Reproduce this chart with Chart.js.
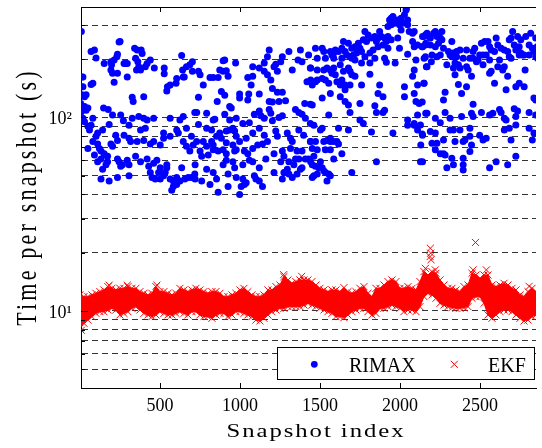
<!DOCTYPE html>
<html><head><meta charset="utf-8">
<script src="https://cdn.jsdelivr.net/npm/chart.js@4.4.0/dist/chart.umd.min.js"></script>
<style>html,body{margin:0;padding:0;background:#fff;overflow:hidden}canvas{display:block}</style>
</head><body><canvas id="c" width="542" height="448"></canvas>
<script>
// ---- axis tick / grid definitions ----
const xTickValues = [500, 1000, 1500, 2000, 2500];
const xTickLabels = ['500', '1000', '1500', '2000', '2500'];
const yGridValues = [5, 6, 7, 8, 9, 10, 20, 30, 40, 50, 60, 70, 80, 90, 100, 200, 300];
const yTickLabelValues = [10, 100];
const yTickLabels = ['10\u00B9', '10\u00B2'];
const xTitle = 'Snapshot index';
const yTitle = 'Time per snapshot (s)';
const seriesNames = ['RIMAX', 'EKF'];

// ---- RIMAX: [snapshot index, time (s)] ----
const rimax = [
[9,278],[70,219],[91,223],[101,203],[251,247],[245,245],[342,228],[358,223],[383,223],[389,214],[235,212],[231,206],[214,198],[194,194],[198,187],[152,190],[194,176],[204,169],[235,169],[214,152],[296,162],[286,190],[296,190],[276,190],[348,202],[362,194],[368,183],[354,176],[379,176],[420,190],[409,183],[440,198],[465,180],[527,180],[527,168],[605,159],[646,162],[642,176],[666,183],[687,187],[703,173],[703,194],[652,162],[636,209],[19,162],[19,144],[81,150],[70,148],[547,144],[564,147],[543,137],[601,150],[13,131],[29,128],[39,131],[327,127],[333,121],[399,128],[29,114],[39,109],[50,112],[148,112],[177,110],[19,99],[29,95],[50,90],[60,86],[81,99],[204,103],[255,103],[327,99],[368,101],[399,99],[420,97],[461,99],[564,99],[625,97],[646,101],[718,106],[70,91],[111,83],[142,86],[183,92],[272,96],[307,91],[379,86],[409,88],[523,83],[564,80],[605,86],[615,83],[666,88],[697,80],[81,75],[101,80],[111,73],[122,69],[132,67],[152,65],[173,63],[194,73],[224,81],[235,76],[276,81],[307,78],[317,75],[358,75],[399,76],[440,73],[461,75],[502,72],[523,78],[646,75],[666,71],[687,67],[708,72],[50,69],[91,64],[111,59],[132,61],[152,64],[173,59],[142,54],[204,71],[235,61],[245,59],[266,57],[296,60],[307,57],[348,63],[379,59],[420,61],[430,56],[461,58],[481,60],[502,55],[543,57],[533,52],[492,52],[440,52],[451,49],[471,48],[502,48],[523,50],[543,55],[564,48],[584,47],[605,49],[625,47],[656,48],[677,49],[697,49],[718,51],[584,44],[574,42],[605,45],[255,56],[307,50],[235,49],[183,47],[132,48],[163,57],[636,55],[13,162],[9,144],[5,118],[9,107],
[905,198],[895,196],[973,191],[741,173],[751,166],[874,176],[895,173],[915,174],[813,161],[833,161],[864,161],[926,163],[771,147],[741,127],[884,136],[905,130],[858,121],[998,132],[998,126],[1049,161],[1080,163],[1070,147],[1055,132],[1049,123],[1080,183],[1121,180],[1152,191],[1152,173],[1172,166],[1193,156],[1183,223],[1172,206],[1213,183],[1224,188],[1234,173],[1255,194],[1265,206],[1306,219],[1327,176],[1363,198],[1378,223],[1388,194],[1429,210],[1440,180],[1419,153],[1121,132],[1203,141],[1234,135],[1265,135],[1183,121],[1203,120],[1244,121],[1285,122],[936,114],[946,112],[1405,118],[1440,117],
[730,106],[792,105],[833,97],[843,98],[905,104],[936,97],[977,99],[1018,93],[1059,94],[1090,104],[1121,108],[1131,102],[1152,99],[1183,110],[1193,105],[1203,96],[1244,100],[1265,102],[1347,110],[1368,106],[1388,104],[1409,99],[1440,93],[741,92],[792,88],[823,86],[854,80],[874,83],[915,85],[936,86],[956,88],[967,85],[977,80],[1080,83],[1121,88],[1152,81],[1172,75],[1224,85],[1234,80],[1296,83],[1316,78],[1368,86],[1398,81],[1440,75],[730,75],[771,75],[792,71],[823,75],[833,72],[884,78],[915,74],[956,72],[998,75],[1039,78],[1080,69],[1111,72],[1141,73],[1213,65],[1265,67],[1316,69],[1327,75],[1357,67],[1388,67],[1409,61],[1429,61],[751,67],[761,63],[802,64],[833,68],[864,67],[895,68],[915,65],[967,67],[977,68],[1028,67],[1049,65],[915,60],[956,59],[967,55],[1018,57],[1059,60],[1080,59],[1121,55],[1162,61],[1255,59],[1275,63],[1306,59],[1337,57],[1347,61],[1368,61],[1388,55],[720,57],[792,54],[833,52],[854,48],[895,57],[926,51],[977,49],[1018,48],[1039,46],[1090,50],[1100,48],[1121,47],[1141,44],[1275,52],[1306,51],[1327,49],[1357,51],[1378,54],[720,48],[761,47],[813,45],[864,41],[926,44],[1008,44],[1028,45],[998,40],[1213,52],[1265,48],[1296,54],
[1935,319],[1945,325],[1956,332],[1986,319],[2007,325],[2028,339],[2038,359],[2040,364],[2048,319],[1945,301],[1966,307],[1925,295],[1997,301],[2017,307],[2048,301],[2058,278],[2007,283],[2079,272],[2089,278],[1781,278],[1801,267],[1822,257],[1843,262],[1863,257],[1873,278],[1884,262],[1904,257],[1925,262],[1915,247],[1894,237],[1853,247],[1791,247],[1771,252],[1740,242],[1750,228],[1719,232],[1699,228],[1678,242],[1647,247],[1637,228],[1616,219],[1596,223],[1586,215],[1657,219],[1688,206],[1709,210],[1729,215],[1760,219],[1781,206],[1812,215],[1832,223],[1863,232],[1925,228],[1945,252],[1986,257],[1997,228],[2079,247],[2089,232],[2110,237],[2141,262],[2161,267],[2141,232],[2161,242],
[1472,228],[1514,228],[1524,219],[1483,202],[1534,202],[1565,219],[1575,210],[1586,202],[1637,202],[1668,210],[1699,202],[1719,198],[1760,191],[1812,191],[1843,202],[1904,202],[1915,193],[1970,191],[2048,212],[2100,198],[2151,202],[2165,183],[1442,180],[1483,176],[1524,176],[1544,180],[1565,176],[1586,180],[1627,187],[1678,180],[1688,173],[1647,173],[1596,166],[1575,169],[1719,163],[1812,167],[1699,166],[1514,159],[1534,156],[1472,153],[1483,156],[1606,153],[1627,147],[1637,156],[1657,147],[1688,147],[1452,147],[1442,156],[1555,150],[1760,147],[1873,147],[2089,176],[2079,163],[2110,147],[2151,150],
[1565,133],[1657,139],[1452,116],[1514,126],[1627,128],[1657,121],[1678,116],[1688,106],[1750,118],[1843,115],[1853,106],[1863,133],[1894,128],[1904,109],[1894,106],[2028,144],[2028,128],[2089,133],[2100,121],[2120,118],[2161,105],[2110,103],[1555,103],
[1462,91],[1514,88],[1503,86],[1616,88],[1678,86],[1750,97],[1771,93],[1822,84],[1956,83],[2048,97],[2048,91],[2089,91],[2089,93],[2110,86],[2141,81],[1442,75],[1472,75],[1524,75],[1544,76],[1565,78],[1565,75],[1586,75],[1606,75],[1616,73],[1452,69],[1483,68],[1534,68],[1565,68],[1637,65],[1462,63],[1503,59],[1586,61],[1442,59],[1452,57],[1472,56],[1493,55],[1514,55],[1524,53],[1534,52],[1555,51],[1565,50],[1544,47],[1483,51],[1462,50],[1452,49],[1699,52],[1853,59],[2130,72],[2141,59],
[2149,262],[2159,267],[2169,272],[2180,262],[2190,257],[2210,272],[2221,278],[2231,262],[2241,267],[2252,257],[2262,278],[2262,252],[2159,237],[2190,237],[2221,232],[2241,242],[2272,228],[2324,247],[2252,210],[2231,206],[2200,210],[2159,206],[2139,232],[2303,219],[2313,210],[2334,215],[2354,219],[2375,223],[2416,223],[2457,219],[2467,228],[2498,210],[2509,242],[2529,247],[2550,247],[2560,232],[2570,223],[2591,219],[2611,237],[2601,257],[2632,228],[2652,223],[2673,219],[2683,252],[2694,257],[2704,278],[2735,262],[2755,252],[2786,262],[2807,237],[2817,272],[2827,228],[2837,219],[2848,257],[2858,232],[2724,223],[2755,215],[2776,210],[2807,210],[2745,232],[2714,237],[2519,210],[2488,198],[2539,210],[2457,202],[2437,202],[2395,202],[2354,206],[2324,206],[2365,187],[2344,191],[2334,180],[2375,180],[2416,183],[2426,176],[2478,194],[2519,187],[2560,198],[2570,173],[2611,183],[2652,183],[2642,176],[2169,183],[2196,194],[2293,187],[2683,206],[2694,202],[2745,210],[2766,210],[2848,206],[2858,202],[2782,176],[2344,166],[2447,163],[2673,163],[2560,169],[2622,198],
[2149,150],[2365,148],[2416,144],[2385,133],[2282,135],[2272,123],[2139,120],[2457,117],[2591,150],[2663,139],[2724,144],[2745,150],[2776,144],[2837,126],[2848,123],
[2169,105],[2221,99],[2252,94],[2282,106],[2313,99],[2385,101],[2447,105],[2457,101],[2509,106],[2560,103],[2580,105],[2622,110],[2632,106],[2652,99],[2663,97],[2714,111],[2724,101],[2735,108],[2807,106],[2848,103],[2128,91.5],[2190,84.5],[2221,83],[2313,86],[2334,86],[2375,86],[2437,88],[2437,80],[2498,81],[2519,76.5],[2539,78],[2652,86],[2683,88],[2724,91.5],[2807,88],[2837,83],[2139,82],[2200,73.5],[2231,73.5],[2272,76.5],[2344,75],[2395,75],[2406,76.5],[2447,72],[2694,76.5],[2827,76.5],[2221,68],[2252,65],[2272,65],[2282,64],[2437,66.6],[2324,61.5],[2395,61.5],[2128,59],[2293,55],[2334,57],[2395,57],[2395,53.5],[2560,55],[2601,59],[2673,57],[2724,63]
];

// ---- EKF: dense band, upper and lower edge of the crosses every 25 snapshots ----
const ekfStep = 25;
const ekfUpper = [
12.1,11.86,11.86,12.1,12.34,12.59,12.84,13.36,13.09,12.84,
13.09,13.09,13.36,13.09,13.09,12.59,12.34,12.1,12.34,13.36,
12.59,12.59,12.34,12.1,12.34,13.09,12.84,12.59,12.84,13.09,
12.84,12.59,12.34,12.59,12.59,12.34,11.86,11.86,12.1,12.34,
12.84,13.09,12.59,12.1,11.86,11.86,12.1,12.84,12.84,13.36,
13.62,15.05,14.46,13.9,14.18,14.46,14.46,14.46,14.18,13.62,
13.09,12.84,12.59,12.84,12.84,12.59,13.2,12.59,12.34,12.59,
13.09,13.36,12.34,11.86,13.09,13.09,13.62,14.18,14.46,14.18,
13.09,13.09,13.36,13.09,12.84,14.18,15.97,15.35,15.97,15.66,
14.46,13.62,13.09,13.09,12.84,12.59,13.36,13.62,15.66,15.35,
14.75,15.35,15.35,13.62,13.36,13.62,13.9,13.62,13.09,12.84,
12.1,11.86,12.59,13.09,12.59
];
const ekfLower = [
8.14,8.64,8.98,9.35,9.72,9.92,9.92,10.12,10.32,10.12,
9.54,9.72,9.92,10.32,10.53,10.12,9.72,9.54,9.35,9.54,
9.92,9.72,9.54,9.54,9.72,9.92,9.72,9.54,9.92,9.92,
9.54,9.35,9.35,9.17,9.54,9.72,9.72,9.35,9.54,9.92,
9.92,9.72,9.54,9.35,8.98,8.88,9.17,9.54,9.92,10.12,
10.32,10.32,10.53,10.53,10.53,10.53,10.74,10.96,10.74,10.53,
10.32,10.12,9.92,9.72,9.35,9.35,9.24,9.54,9.92,10.12,
10.32,10.32,9.92,9.54,9.72,10.32,10.32,10.53,10.74,10.53,
10.32,9.92,10.12,10.12,9.92,10.53,11.86,12.34,12.1,11.63,
10.96,10.74,10.53,10.4,10.32,10.32,10.4,10.53,11.63,11.86,
11.86,10.96,9.54,9.17,9.54,9.92,10.12,10.12,9.92,9.54,
9.17,8.88,8.98,9.35,9.54
];
const ekfIndex = ekfUpper.map((_, i) => i * ekfStep);
// isolated EKF crosses
const ekfOutliers = [[2190,21.1],[2192,19.9],[2188,19.1],[2194,18.4],[2472,22.6],[1273,15.4],[1386,15.1],[2159,16.6],[2221,16.3],[2457,16.3],[2540,16.3],[2807,13.4],[9,7.95],[183,13.6],[296,13.6],[481,13.6]];

const BLUE = '#0000ff', RED = '#ff0000';
const FONT = '"Liberation Serif", "Times New Roman", serif';

const deco = {
  id: 'deco',
  afterDraw(chart) {
    const ctx = chart.ctx, a = chart.chartArea;
    const xs = chart.scales.x, ys = chart.scales.y;
    ctx.save();
    // top frame line
    ctx.strokeStyle = '#000'; ctx.lineWidth = 1;
    ctx.beginPath();
    ctx.moveTo(a.left, Math.round(a.top) + 0.5); ctx.lineTo(a.right, Math.round(a.top) + 0.5);
    ctx.stroke();
    // inward ticks on x (bottom and top)
    ctx.beginPath();
    xTickValues.forEach(v => {
      const px = Math.round(xs.getPixelForValue(v)) + 0.5;
      ctx.moveTo(px, a.bottom); ctx.lineTo(px, a.bottom - 5);
      ctx.moveTo(px, a.top); ctx.lineTo(px, a.top + 5);
    });
    // inward ticks on y (left)
    yGridValues.forEach(v => {
      const py = Math.round(ys.getPixelForValue(v)) + 0.5;
      const len = yTickLabelValues.includes(v) ? 7 : 4;
      ctx.moveTo(a.left, py); ctx.lineTo(a.left + len, py);
    });
    ctx.stroke();

    // legend box
    const lx = 277.5, ly = 347.5, lw = 257, lh = 32;
    ctx.fillStyle = '#fff';
    ctx.fillRect(lx, ly, lw, lh);
    ctx.strokeStyle = '#000'; ctx.lineWidth = 1;
    ctx.strokeRect(lx, ly, lw, lh);
    ctx.fillStyle = BLUE;
    ctx.beginPath(); ctx.arc(314.3, 364.3, 3.4, 0, Math.PI * 2); ctx.fill();
    ctx.strokeStyle = RED; ctx.lineWidth = 1;
    ctx.beginPath();
    ctx.moveTo(450.8, 360.8); ctx.lineTo(457.8, 367.8);
    ctx.moveTo(457.8, 360.8); ctx.lineTo(450.8, 367.8);
    ctx.stroke();
    ctx.fillStyle = '#000';
    ctx.font = '20px ' + FONT;
    ctx.textAlign = 'left'; ctx.textBaseline = 'alphabetic';
    ctx.fillText(seriesNames[0], 349, 371.5);
    ctx.fillText(seriesNames[1], 488, 371.5);

    // x title
    ctx.save();
    ctx.font = '19px ' + FONT;
    ctx.letterSpacing = '1.5px';
    ctx.translate(316, 437);
    ctx.scale(1.3, 1);
    ctx.textAlign = 'center';
    ctx.fillText(xTitle, 0, 0);
    ctx.restore();

    // y title
    ctx.save();
    ctx.font = '22px ' + FONT;
    ctx.letterSpacing = '3.2px';
    ctx.translate(36, 197);
    ctx.rotate(-Math.PI / 2);
    ctx.scale(1, 1.3);
    ctx.textAlign = 'center';
    ctx.fillText(yTitle, 0, 0);
    ctx.restore();

    ctx.restore();
  }
};

const ekfPointOpts = {
  pointStyle: 'crossRot', pointRadius: 5, pointHoverRadius: 5,
  pointBorderColor: RED, pointBackgroundColor: RED, pointBorderWidth: 1
};

new Chart(document.getElementById('c'), {
  type: 'scatter',
  data: {
    datasets: [
      {
        label: seriesNames[0],
        data: rimax.map(([x, y]) => ({x, y})),
        pointRadius: 3.5, pointHoverRadius: 3.5,
        pointBackgroundColor: BLUE, pointBorderWidth: 0, pointBorderColor: BLUE
      },
      Object.assign({
        label: seriesNames[1],
        type: 'line',
        data: ekfIndex.map((x, i) => ({x, y: ekfUpper[i]})),
        showLine: true, borderColor: RED, borderWidth: 1, tension: 0,
        backgroundColor: RED, fill: '+1'
      }, ekfPointOpts),
      Object.assign({
        label: seriesNames[1] + ' (low)',
        type: 'line',
        data: ekfIndex.map((x, i) => ({x, y: ekfLower[i]})),
        showLine: true, borderColor: RED, borderWidth: 1, tension: 0,
        backgroundColor: RED, fill: false
      }, ekfPointOpts),
      Object.assign({
        label: seriesNames[1] + ' (isolated)',
        data: ekfOutliers.map(([x, y]) => ({x, y}))
      }, ekfPointOpts)
    ]
  },
  options: {
    responsive: false,
    animation: false,
    events: [],
    layout: { padding: { top: 7, left: 0, right: 0, bottom: 0 } },
    plugins: { legend: { display: false }, tooltip: { enabled: false } },
    scales: {
      x: {
        type: 'linear', min: 7, max: 2850,
        afterBuildTicks: s => { s.ticks = xTickValues.map(v => ({value: v})); },
        afterFit: s => { s.height = 60; s.paddingLeft = 0; s.paddingRight = 0; },
        ticks: {
          autoSkip: false, maxRotation: 0, color: '#000', padding: 7,
          font: { family: FONT, size: 18 },
          callback: v => { const i = xTickValues.indexOf(v); return i >= 0 ? xTickLabels[i] : ''; }
        },
        grid: { display: false, drawTicks: false },
        border: { display: true, color: '#000', width: 1 }
      },
      y: {
        type: 'logarithmic', min: 4, max: 372,
        afterBuildTicks: s => { s.ticks = yGridValues.map(v => ({value: v})); },
        afterFit: s => { s.width = 81; s.paddingTop = 0; s.paddingBottom = 0; },
        ticks: {
          autoSkip: false, color: '#000', padding: 9, labelOffset: 2,
          font: { family: FONT, size: 18 },
          callback: v => { const i = yTickLabelValues.indexOf(v); return i >= 0 ? yTickLabels[i] : ''; }
        },
        grid: { color: '#333', lineWidth: 1, drawTicks: false },
        border: { display: true, color: '#000', width: 1, dash: [6, 4] }
      }
    }
  },
  plugins: [deco]
});
</script>
</body></html>
